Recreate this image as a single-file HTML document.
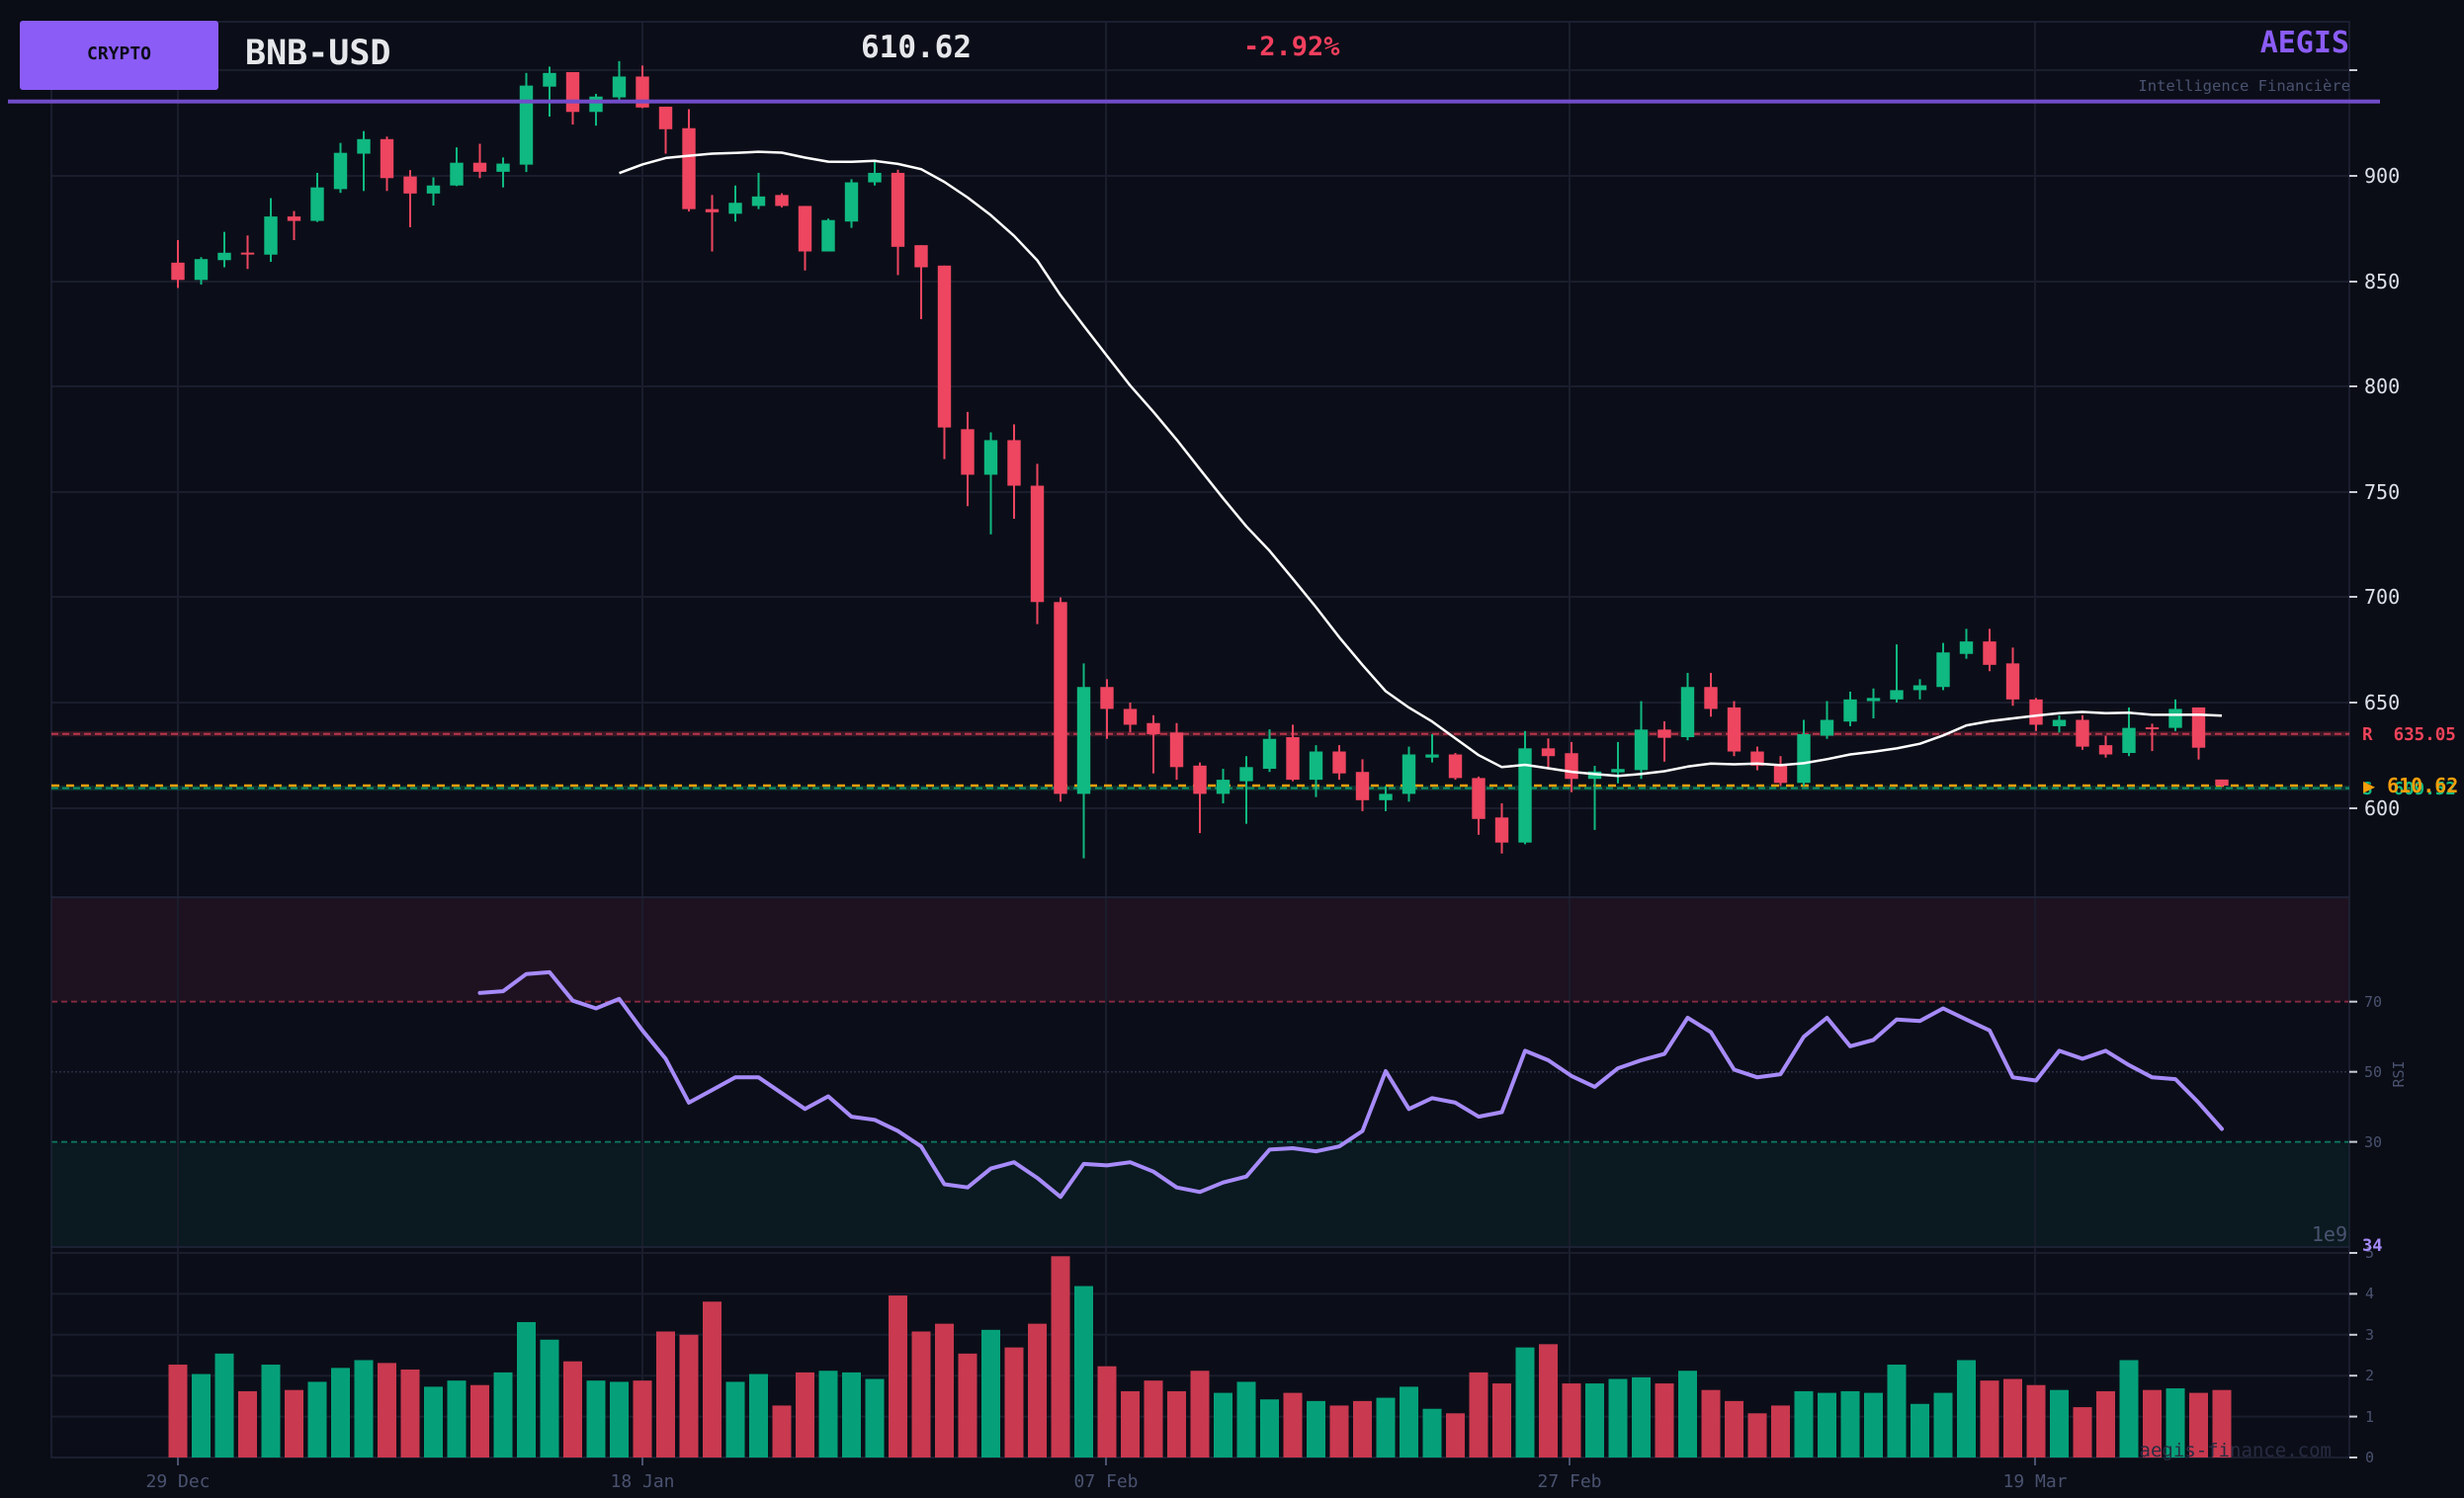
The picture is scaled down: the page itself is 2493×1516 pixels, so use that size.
<!DOCTYPE html>
<html><head><meta charset="utf-8"><style>
html,body{margin:0;padding:0;background:#0a0d15;overflow:hidden}
svg{display:block}
text{font-family:"DejaVu Sans Mono","Liberation Mono",monospace}
</style></head><body>
<svg id="s" xmlns="http://www.w3.org/2000/svg" width="2493" height="1516" viewBox="0 0 2493 1516">
<rect x="0" y="0" width="2493" height="1516" fill="#0a0d15"/>
<rect x="52" y="22" width="2325" height="886" fill="#0b0e18"/>
<rect x="52" y="908" width="2325" height="354" fill="#0b0e18"/>
<rect x="52" y="1262" width="2325" height="213" fill="#0b0e18"/>
<rect x="52" y="908" width="2325" height="105.7" fill="#1e1220"/>
<rect x="52" y="1155.6" width="2325" height="106.4" fill="#0a1a20"/>
<g id="grid" stroke="#1a1d2c" stroke-width="2"></g>
<line x1="52" y1="1013.7" x2="2377" y2="1013.7" stroke="#a3304a" stroke-width="1.8" stroke-dasharray="6,4" opacity="0.8"/>
<line x1="52" y1="1155.6" x2="2377" y2="1155.6" stroke="#0f8d6c" stroke-width="1.8" stroke-dasharray="6,4" opacity="0.85"/>
<line x1="52" y1="1084.7" x2="2377" y2="1084.7" stroke="#2a2e45" stroke-width="1.5" stroke-dasharray="2,2"/>
<g fill="none" stroke="#1f2438" stroke-width="1.5">
<rect x="52" y="22" width="2325" height="886"/>
<rect x="52" y="908" width="2325" height="354"/>
<rect x="52" y="1262" width="2325" height="213"/>
</g>
<line x1="52" y1="742.8" x2="2377" y2="742.8" stroke="#f0435a" stroke-width="5" opacity="0.2"/>
<line x1="52" y1="742.8" x2="2377" y2="742.8" stroke="#f0435a" stroke-width="2" stroke-dasharray="7,4" opacity="0.7"/>
<line x1="52" y1="797.6" x2="2377" y2="797.6" stroke="#10b981" stroke-width="5" opacity="0.2"/>
<line x1="52" y1="797.6" x2="2377" y2="797.6" stroke="#10b981" stroke-width="2" stroke-dasharray="7,4" opacity="0.7"/>
<line x1="52" y1="795" x2="2377" y2="795" stroke="#f59e0b" stroke-width="2.5" stroke-dasharray="8,7"/>
<g id="cand"></g>
<polyline id="sma" fill="none" stroke="#ffffff" stroke-width="2.5" stroke-linejoin="round"/>
<g id="vol"></g>
<polyline id="rsi" fill="none" stroke="#a78bfa" stroke-width="4" stroke-linejoin="round" stroke-linecap="round"/>
<text x="2359" y="1474" text-anchor="end" font-size="19" fill="#272c42">aegis-finance.com</text>
<g id="ticks" stroke="#c8ccd6" stroke-width="2"></g>
<g font-size="20" fill="#dde1ea">
<text x="2392" y="185">900</text>
<text x="2392" y="292">850</text>
<text x="2392" y="398">800</text>
<text x="2392" y="505">750</text>
<text x="2392" y="611">700</text>
<text x="2392" y="718">650</text>
<text x="2392" y="825">600</text>
</g>
<g font-size="15" fill="#4a5270">
<text x="2392" y="1019">70</text>
<text x="2392" y="1090">50</text>
<text x="2392" y="1161">30</text>
<text x="2393" y="1273">5</text>
<text x="2393" y="1314">4</text>
<text x="2393" y="1356">3</text>
<text x="2393" y="1397">2</text>
<text x="2393" y="1439">1</text>
<text x="2393" y="1480">0</text>
<text transform="translate(2432,1087) rotate(-90)" text-anchor="middle">RSI</text>
</g>
<text x="2375" y="1256" text-anchor="end" font-size="20" fill="#4a5270">1e9</text>
<text x="2390" y="1266" font-size="17" font-weight="bold" fill="#a78bfa">34</text>
<text x="2390" y="749" font-size="17.5" font-weight="bold" fill="#f0435a" xml:space="preserve">R  635.05</text>
<text x="2390" y="804" font-size="17.5" font-weight="bold" fill="#10b981" xml:space="preserve">S  609.52</text>
<text x="2391" y="802" font-size="20" font-weight="bold" fill="#f59e0b" xml:space="preserve">▶ 610.62</text>
<g font-size="18" fill="#4a5270" text-anchor="middle">
<text x="180" y="1505">29 Dec</text>
<text x="650" y="1505">18 Jan</text>
<text x="1119" y="1505">07 Feb</text>
<text x="1588" y="1505">27 Feb</text>
<text x="2059" y="1505">19 Mar</text>
</g>
<rect x="20" y="21" width="201" height="70" rx="3" fill="#8b5cf6"/>
<text x="120.5" y="60" text-anchor="middle" font-size="18" font-weight="bold" fill="#0b0d17">CRYPTO</text>
<text x="248" y="65" font-size="35" font-weight="bold" fill="#e5e7eb">BNB-USD</text>
<text x="871" y="58" font-size="31" font-weight="bold" fill="#e5e7eb">610.62</text>
<text x="1258" y="56" font-size="27" font-weight="bold" fill="#f43f5e">-2.92%</text>
<text x="2377" y="53" text-anchor="end" font-size="30" font-weight="bold" fill="#8b5cf6">AEGIS</text>
<text x="2378" y="92" text-anchor="end" font-size="15.5" fill="#4a5270">Intelligence Financière</text>
<rect x="8" y="100.7" width="2400" height="4" fill="#714cc9"/>
</svg>
<script>
(function(){
var NS="http://www.w3.org/2000/svg";
function el(t,a,p){var e=document.createElementNS(NS,t);for(var k in a)e.setAttribute(k,a[k]);p.appendChild(e);return e;}
var D=[[858.7,869.4,846.7,850.5],[850.5,861.3,848.3,860.4],[859.9,873.3,856.5,863.4],[863.2,871.6,855.7,862.8],[862.5,889.3,859.1,880.6],[880.6,883.2,869.4,878.5],[878.5,901.3,878,894.4],[893.6,915.5,891.8,910.8],[910.4,921.1,892.7,917.3],[917.3,918.5,892.7,898.8],
[899.6,902.6,875.5,891.5],[891.5,899.2,885.8,895.3],[895.3,913.4,895,906.1],[906.1,915.1,898.8,901.8],[901.8,908.6,894.4,905.7],[905.2,948.7,901.7,942.7],[942.2,951.7,928,948.7],[949.1,949.1,924.2,930.2],[930.2,938.8,923.7,937.5],[937.1,954.3,934.9,947],
[947,952.2,932,932.3],[932.7,932.7,910.4,922],[922.5,931.5,883,884.1],[884.1,890.8,864,882.6],[881.9,895.3,878.2,887.1],[885.6,901.3,884.1,890.1],[890.8,891.6,884.9,885.6],[885.6,885.6,855,864],[864,879.6,864,878.9],[878.2,898.3,875.2,896.8],
[896.8,906.5,895.3,901.3],[901.3,902.8,852.8,866.2],[867,867,831.9,856.5],[857.3,857.3,765.5,780.5],[779.7,787.9,743.2,758.1],[758.1,778.2,729.8,774.5],[774.5,782,737.2,752.9],[752.9,763.3,687.2,697.7],[697.7,699.9,603,606.7],[606.7,668.6,576.1,657.4],
[657.4,661.1,632.8,647],[647,650,635.8,639.5],[640.3,644,616.4,635],[635.8,640.3,613.4,619.4],[620.1,621.6,588.1,606.7],[606.7,618.6,602.2,613.4],[612.7,624.6,592.5,619.4],[618.6,637.3,617.1,632.8],[633.6,639.5,612.7,613.4],[613.4,629.8,605.2,626.8],
[626.8,629.8,613.4,616.4],[617.1,623.1,598.5,603.7],[603.7,610.4,598.5,606.7],[606.7,629.1,603,625.4],[623.9,635,621.6,625.4],[625.4,626.1,613.4,614.2],[614.2,614.9,587.3,594.8],[595.5,602.2,578.4,583.6],[583.6,636.5,582.8,628.3],[628.3,633,619.4,624.6],
[626,631.3,607.5,613.8],[613.8,620,589.6,617.3],[616.9,631.3,611.7,618.5],[618,650.7,613.8,637.2],[637.2,641.1,622,633.3],[633.6,664.1,632.1,657.4],[657.4,664.1,643.3,647],[647.7,650.7,624.6,626.8],[626.8,629.1,617.9,620.1],[620.1,624.6,610.4,611.9],
[611.9,641.8,610.4,635],[634.3,650.7,632.8,641.8],[641,655.2,638.8,651.5],[650.7,656.7,642.5,652.2],[651.5,677.6,650,655.9],[655.9,661.1,651.5,658.2],[657.4,678.3,655.9,673.8],[673.1,685,670.8,679],[679,685,664.9,667.9],[668.6,676.1,648.5,651.5],
[651.5,652.2,636.5,639.5],[638.8,644,635.8,641.8],[641.8,644,627.6,629.1],[629.8,634.3,623.9,625.4],[626.1,647.7,624.6,638],[638,640,627,637.6],[638,651.5,636.5,647],[647.7,647.7,623,628.6],[613.5,613.5,610,610.62]];
var V=[2.27,2.04,2.54,1.62,2.27,1.65,1.85,2.19,2.38,2.31,2.15,1.73,1.88,1.77,2.08,3.31,2.88,2.35,1.88,1.85,1.88,3.08,3.0,3.81,1.85,2.04,1.27,2.08,2.12,2.08,1.92,3.96,3.08,3.27,2.54,3.12,2.69,3.27,4.92,4.19,2.23,1.62,1.88,1.62,2.12,1.58,1.85,1.42,1.58,1.38,1.27,1.38,1.46,1.73,1.19,1.08,2.08,1.81,2.69,2.77,1.81,1.81,1.92,1.96,1.81,2.12,1.65,1.38,1.08,1.27,1.62,1.58,1.62,1.58,2.27,1.31,1.58,2.38,1.88,1.92,1.77,1.65,1.23,1.62,2.38,1.65,1.69,1.58,1.65];
var R=[72.5,73,77.9,78.4,70.3,68.1,70.8,61.8,53.7,41.2,44.8,48.4,48.4,43.9,39.4,43,37.2,36.3,33.1,28.7,17.9,17,22.4,24.2,19.7,14.3,23.7,23.3,24.2,21.5,17,15.7,18.4,20.1,27.8,28.2,27.3,28.7,33.1,50.2,39.4,42.5,41.2,37.2,38.5,56,53.3,48.8,45.7,51,53.3,55.1,65.4,61.3,50.6,48.4,49.3,60,65.4,57.3,59.1,64.9,64.5,68.1,64.9,61.8,48.4,47.5,56,53.7,56,51.9,48.4,47.9,41.2,33.7];
function X(i){return 180+i*23.5;}
function Y(p){return 817.7-(p-600)*2.1333;}
function YR(r){return 1262-r*3.5467;}
function YV(v){return 1475-v*41.4;}
var G="#10b981",Rd="#ee4560",VG="#05a079",VR="#c9394f";
var g=document.getElementById("grid");
[71,178,285,391,498,604,711,818,1268,1309.4,1350.8,1392.2,1433.6].forEach(function(y){el("line",{x1:52,y1:y,x2:2377,y2:y},g);});
[180,650,1119,1588,2059].forEach(function(x){el("line",{x1:x,y1:22,x2:x,y2:1475},g);});
var c=document.getElementById("cand"),vg=document.getElementById("vol");
var sma=[];
for(var i=0;i<D.length;i++){
 var d=D[i],x=X(i),up=d[3]>=d[0],col=up?G:Rd;
 el("line",{x1:x,y1:Y(d[1]),x2:x,y2:Y(d[2]),stroke:col,"stroke-width":2},c);
 var t=Y(Math.max(d[0],d[3])),b=Y(Math.min(d[0],d[3]));
 if(b-t<2){var m=(t+b)/2;t=m-1;b=m+1;}
 el("rect",{x:x-6.7,y:t,width:13.4,height:b-t,fill:col},c);
 el("rect",{x:x-9.5,y:YV(V[i]),width:19,height:1475-YV(V[i]),fill:up?VG:VR},vg);
 if(i>=19){var s=0;for(var j=i-19;j<=i;j++)s+=D[j][3];sma.push(x.toFixed(1)+","+Y(s/20).toFixed(1));}
}
document.getElementById("sma").setAttribute("points",sma.join(" "));
var rp=[];for(var k=0;k<R.length;k++){rp.push(X(13+k).toFixed(1)+","+YR(R[k]).toFixed(1));}
document.getElementById("rsi").setAttribute("points",rp.join(" "));
var tk=document.getElementById("ticks");
[71,178,285,391,498,604,711,818,1013.7,1084.7,1155.6,1268,1309.4,1350.8,1392.2,1433.6,1475].forEach(function(y){el("line",{x1:2377,y1:y,x2:2385,y2:y},tk);});
[180,650,1119,1588,2059].forEach(function(x){el("line",{x1:x,y1:1475,x2:x,y2:1483,stroke:"#4a5270"},tk);});
})();
</script>
</body></html>
